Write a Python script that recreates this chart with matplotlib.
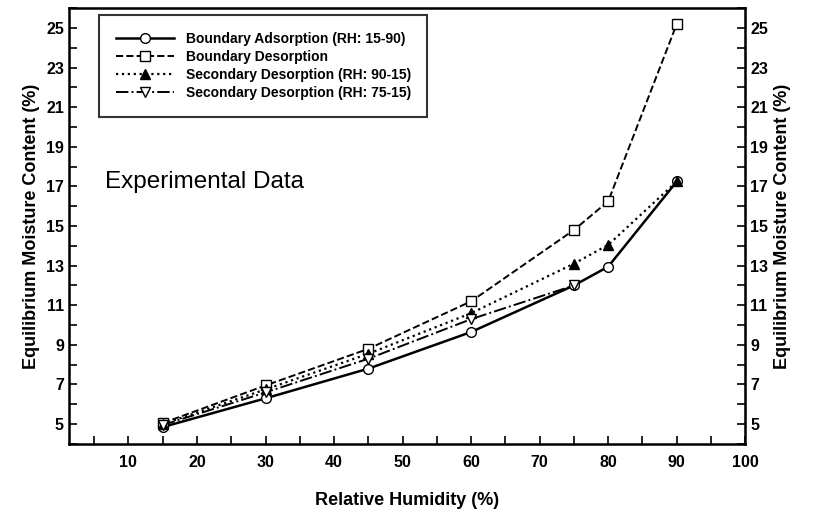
import matplotlib.pyplot as plt
from matplotlib.ticker import MultipleLocator

plt.rcParams['font.family'] = ['Liberation Sans', 'DejaVu Sans']
plt.rcParams['font.weight'] = 'bold'

# relative humidity (%) and equilibrium moisture content (%)
rh = [15, 30, 45, 60, 75, 80, 90]
adsorption = [4.85, 6.3, 7.8, 9.65, 12.0, 12.95, 17.25]
desorption = [5.05, 6.95, 8.8, 11.2, 14.8, 16.25, 25.2]
sec_90_15 = [5.0, 6.75, 8.55, 10.6, 13.1, 14.05, 17.25]
rh_75 = [15, 30, 45, 60, 75]
sec_75_15 = [4.95, 6.6, 8.3, 10.3, 12.0]

fig = plt.figure(figsize=(8.19, 5.12), dpi=100)
ax = fig.add_axes([0.084, 0.133, 0.826, 0.851])

ax.plot(rh, adsorption, '-', color='black', lw=1.8, marker='o', ms=7,
        mfc='white', mec='black', label='Boundary Adsorption (RH: 15-90)')
ax.plot(rh, desorption, '--', color='black', lw=1.4, marker='s', ms=7,
        mfc='white', mec='black', label='Boundary Desorption')
ax.plot(rh, sec_90_15, ':', color='black', lw=1.6, marker='^', ms=7,
        mfc='black', mec='black', label='Secondary Desorption (RH: 90-15)')
ax.plot(rh_75, sec_75_15, '-.', color='black', lw=1.4, marker='v', ms=7,
        mfc='white', mec='black', label='Secondary Desorption (RH: 75-15)')

ax.set_xlim(1.3, 100)
ax.set_ylim(4, 26)
ax.set_xticks([10, 20, 30, 40, 50, 60, 70, 80, 90, 100])
ax.xaxis.set_minor_locator(MultipleLocator(5))
ax.set_yticks(range(5, 26, 2))
ax.yaxis.set_minor_locator(MultipleLocator(1))
ax.tick_params(which='both', direction='in', labelsize=11.5, width=1.2, length=6)
ax.tick_params(axis='x', pad=8)
for s in ax.spines.values():
    s.set_linewidth(1.8)

ax.set_xlabel('Relative Humidity (%)', fontsize=13, fontweight='bold', labelpad=16)
ax.set_ylabel('Equilibrium Moisture Content (%)', fontsize=13, fontweight='bold')

ax2 = ax.twinx()
ax2.set_ylim(ax.get_ylim())
ax2.set_yticks(range(5, 26, 2))
ax2.yaxis.set_minor_locator(MultipleLocator(1))
ax2.tick_params(which='both', direction='in', labelsize=11.5, width=1.2, length=6)
ax2.set_ylabel('Equilibrium Moisture Content (%)', fontsize=13, fontweight='bold')

ax.text(0.054, 0.6, 'Experimental Data', transform=ax.transAxes, fontsize=17.5,
        fontweight='normal', va='center')

leg = ax.legend(loc='upper left', bbox_to_anchor=(0.035, 1.0), fontsize=10,
                frameon=True, fancybox=False, edgecolor='black',
                handlelength=4.2, borderpad=1.2, labelspacing=0.3)
leg.get_frame().set_linewidth(1.5)

fig.savefig('out.png', dpi=100)
